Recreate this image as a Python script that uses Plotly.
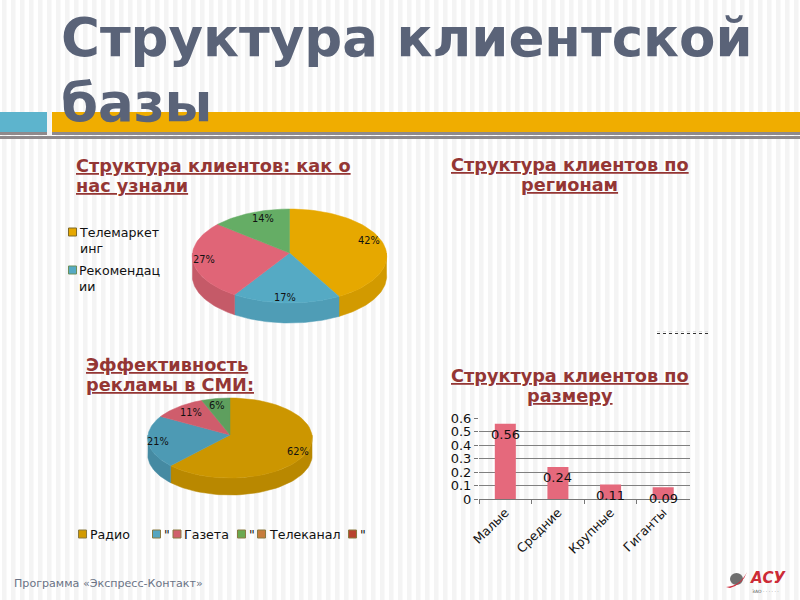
import math
import plotly.graph_objects as go

# ---------- data ----------
title_lines = ["Структура клиентской", "базы"]
footer = "Программа «Экспресс-Контакт»"

pie1_title = ["Структура клиентов: как о", "нас узнали"]
pie1_values = [42, 17, 27, 14]
pie1_legend = ["Телемаркет<br>инг", "Рекомендац<br>ии"]

pie2_title = ["Эффективность", "рекламы в СМИ:"]
pie2_values = [62, 21, 11, 6]
pie2_legend = ["Радио", "\"", "Газета", "\"", "Телеканал", "\""]

region_title = ["Структура клиентов по", "регионам"]

bar_title = ["Структура клиентов по", "размеру"]
bar_categories = ["Малые", "Средние", "Крупные", "Гиганты"]
bar_values = [0.56, 0.24, 0.11, 0.09]
bar_ticks = [0, 0.1, 0.2, 0.3, 0.4, 0.5, 0.6]

# ---------- styles ----------
FONT = "DejaVu Sans"
TITLE_C = "#5a6378"
HEAD_C = "#943634"
P1_TOP = ["#e6a800", "#55aac4", "#e06577", "#65ad65"]
P1_SIDE = ["#d29a00", "#4f9db6", "#c55a68", "#5a9c5a"]
P2_TOP = ["#cc9600", "#4d9ab4", "#cf5d6c", "#5e9f5e"]
P2_SIDE = ["#b98800", "#458aa2", "#b9525f", "#548e54"]
LEG2_C = ["#d29a00", "#55a5c0", "#d0606c", "#6aa84f", "#c67c3c", "#b8432f"]

fig = go.Figure()


def arc(cx, ay, rx, ry, k, a0, a1, dy=0, n=48):
    """Rim of a tilted disc seen in slight perspective (k), angles clockwise from 12 o'clock."""
    pts = []
    for i in range(n + 1):
        a = math.radians(a0 + (a1 - a0) * i / n)
        s = 1 / (1 + k * math.cos(a))
        pts.append((cx + rx * math.sin(a) * s, ay - ry * math.cos(a) * s + dy))
    return pts


def draw_pie(values, top, side, cx, ay, rx, ry, k, depth, label_cy, label_ry, nudges):
    total = sum(values)
    angles = [0]
    for v in values:
        angles.append(angles[-1] + 360 * v / total)
    for i, v in enumerate(values):
        a0, a1 = max(angles[i], 90), min(angles[i + 1], 270)
        if a1 > a0:
            upper = arc(cx, ay, rx, ry, k, a0, a1)
            lower = arc(cx, ay, rx, ry, k, a1, a0, depth)
            poly = upper + lower + upper[:1]
            fig.add_trace(go.Scatter(x=[p[0] for p in poly], y=[p[1] for p in poly],
                                     mode="lines", fill="toself", fillcolor=side[i],
                                     line=dict(color=side[i], width=0.5),
                                     hoverinfo="skip", showlegend=False, xaxis="x", yaxis="y"))
    apex = (cx, ay)
    for i, v in enumerate(values):
        poly = [apex] + arc(cx, ay, rx, ry, k, angles[i], angles[i + 1]) + [apex]
        fig.add_trace(go.Scatter(x=[p[0] for p in poly], y=[p[1] for p in poly],
                                 mode="lines", fill="toself", fillcolor=top[i],
                                 line=dict(color=top[i], width=0.5),
                                 hoverinfo="skip", showlegend=False, xaxis="x", yaxis="y"))
    for i, v in enumerate(values):
        a = math.radians((angles[i] + angles[i + 1]) / 2)
        x = cx + 0.85 * rx * math.sin(a) + nudges[i][0]
        y = label_cy - 0.85 * label_ry * math.cos(a) + nudges[i][1]
        fig.add_annotation(x=x, y=y, xref="x", yref="y", text=f"{v}%", showarrow=False,
                           font=dict(family=FONT, size=9.8, color="#111111"))


def text(x, y, s, size, color="#000000", bold=False, anchor="left"):
    fig.add_annotation(x=x, y=y, xref="x", yref="y", text=f"<b>{s}</b>" if bold else s,
                       showarrow=False, xanchor=anchor, yanchor="middle", align=anchor,
                       font=dict(family=FONT, size=size, color=color))


def rect(x0, y0, x1, y1, fill, line=None, layer="below"):
    fig.add_shape(type="rect", x0=x0, y0=y0, x1=x1, y1=y1, xref="x", yref="y", layer=layer,
                  fillcolor=fill, line=dict(color=line or fill, width=1 if line else 0))


x = 0
while x < 800:
    rect(x + 2, 0, x + 6.5, 600, "#f4f4f4")
    x += 9

rect(0, 112, 47, 132, "#5db4cd")
rect(52, 112, 800, 132, "#f0ad00")
rect(0, 132, 47, 135, "#8f8a8c")
rect(52, 132, 800, 135, "#8f8a8c")
rect(0, 136, 800, 139, "#8f8a8c")

text(59, 37.5, title_lines[0], 53, TITLE_C, True)
text(59, 102.5, title_lines[1], 53, TITLE_C, True)

for (x0, y0, lines, anc) in [(74, 166, pie1_title, "left"), (569.5, 165, region_title, "center"),
                             (84, 365, pie2_title, "left"), (569.5, 376, bar_title, "center")]:
    for i, s in enumerate(lines):
        text(x0, y0 + i * 19.5, f"<u>{s}</u>", 17.7, HEAD_C, True, anc)

draw_pie(pie1_values, P1_TOP, P1_SIDE, 289.5, 253, 97, 46.8, 0.064, 20, 256, 47,
         [(0, -6), (-2, 2), (-4, -3), (9, -1)])
draw_pie(pie2_values, P2_TOP, P2_SIDE, 230, 435, 82, 39.8, 0.075, 17, 438, 40,
         [(3, 1), (-3, -2), (7, 0), (0, 1)])

for i, (s, yy) in enumerate(zip(pie1_legend, [232.5, 270.5])):
    rect(68.5, yy - 4.5, 76.5, yy + 3.5, P1_TOP[i], "#7f6a2a" if i == 0 else "#6b8f5a")
    fig.add_annotation(x=77, y=yy + 8, xref="x", yref="y", text=s, showarrow=False, xanchor="left",
                       align="left", font=dict(family=FONT, size=12.6, color="#111111"))

for name, c, x0, tx in zip(pie2_legend, LEG2_C,
                           [78.5, 152.5, 173, 237.5, 257.5, 348.5],
                           [88, 162, 182, 247, 267, 358]):
    rect(x0, 530, x0 + 8, 538, c, "#8a7a40")
    text(tx, 534, name, 12.6, "#111111")

fig.add_shape(type="line", x0=657, x1=708, y0=333.5, y1=333.5, xref="x", yref="y",
              line=dict(color="#333333", width=1, dash="dot"))
fig.add_shape(type="line", x0=657, x1=708, y0=331.5, y1=331.5, xref="x", yref="y",
              line=dict(color="#dddddd", width=1, dash="dot"))

fig.add_trace(go.Bar(x=bar_categories, y=bar_values, marker=dict(color="#e5697c", line=dict(width=0)),
                     xaxis="x2", yaxis="y2", showlegend=False, hoverinfo="skip", width=0.4))
for c, v in zip(bar_categories, bar_values):
    fig.add_annotation(x=c, y=v, xref="x2", yref="y2", text=str(v), showarrow=False, yshift=-11,
                       font=dict(family=FONT, size=13, color="#111111"))

text(12, 583, footer, 11.1, "#6a7385")
fig.add_shape(type="circle", x0=730, y0=573, x1=743, y1=585, xref="x", yref="y", layer="below",
              fillcolor="#6f6f6f", line=dict(width=0))
fig.add_shape(type="path", path="M 726 587 Q 740 586 747 572 Q 743 584 730 588 Z", xref="x", yref="y",
              fillcolor="#d03040", line=dict(width=0))
text(748, 578, "<i>АСУ</i>", 15, "#cc2b36", True)
text(750, 591, "ЗАО · · · · · ·", 4.5, "#555555")

fig.update_layout(
    width=800, height=600, margin=dict(l=0, r=0, t=0, b=0, autoexpand=False),
    paper_bgcolor="#ffffff", plot_bgcolor="rgba(0,0,0,0)",
    xaxis=dict(range=[0, 800], domain=[0, 1], visible=False, fixedrange=True, automargin=False),
    yaxis=dict(range=[600, 0], domain=[0, 1], visible=False, fixedrange=True, automargin=False),
    xaxis2=dict(domain=[479 / 800, 689.5 / 800], anchor="y2", type="category", automargin=False,
                tickson="boundaries", ticks="outside", ticklen=4, tickcolor="#777777",
                tickangle=-45, showgrid=False, showline=True, linecolor="#777777",
                tickfont=dict(family=FONT, size=12.5, color="#111111")),
    yaxis2=dict(domain=[1 - 499.3 / 600, 1 - 418.3 / 600], anchor="x2", range=[0, 0.6], automargin=False,
                tickmode="array", tickvals=bar_ticks, ticktext=[str(t) for t in bar_ticks],
                ticks="outside", ticklen=4, tickcolor="#777777", showline=False,
                gridcolor="#808080", gridwidth=1, zeroline=False,
                tickfont=dict(family=FONT, size=13, color="#111111")),
    showlegend=False,
)
fig.write_html("out.html", config={"displayModeBar": False},
               post_script="document.body.style.margin='0';")
